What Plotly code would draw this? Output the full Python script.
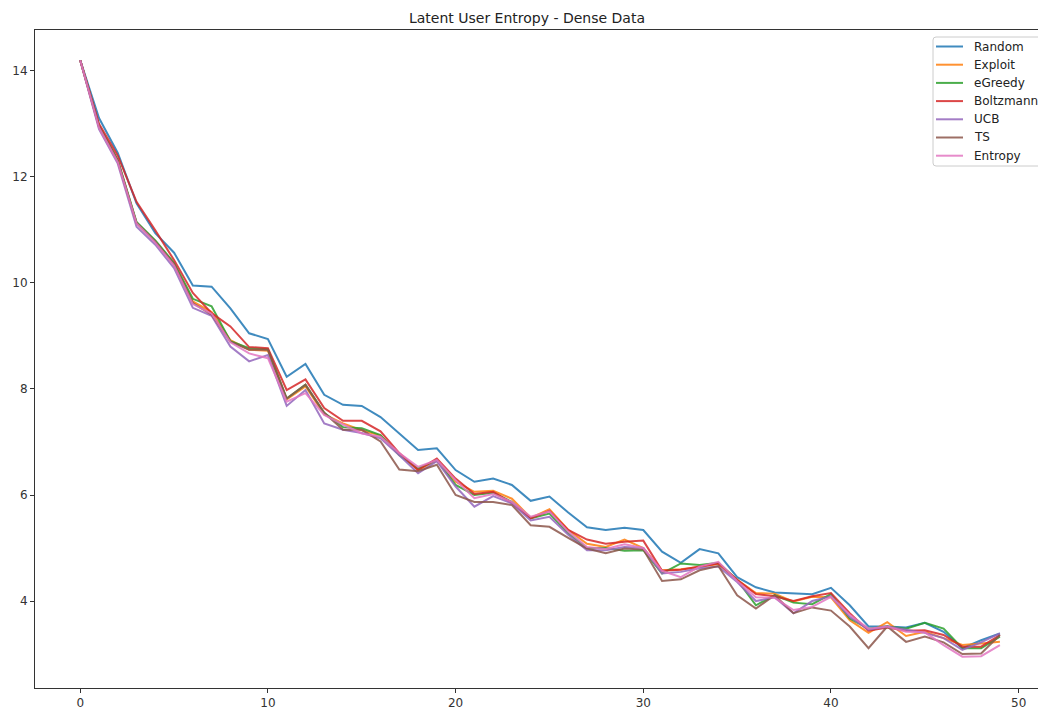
import plotly.graph_objects as go

steps = list(range(50))

random_ = [14.2, 13.11, 12.45, 11.50, 10.94, 10.57, 9.95, 9.93, 9.52, 9.05,
           8.94, 8.23, 8.47, 7.89, 7.70, 7.68, 7.47, 7.16, 6.85, 6.88,
           6.47, 6.25, 6.31, 6.19, 5.89, 5.97, 5.67, 5.39, 5.34, 5.38,
           5.34, 4.93, 4.72, 4.98, 4.90, 4.45, 4.26, 4.16, 4.15, 4.13,
           4.25, 3.92, 3.52, 3.52, 3.50, 3.59, 3.42, 3.11, 3.26, 3.39]
exploit = [14.2, 12.95, 12.30, 11.13, 10.78, 10.35, 9.65, 9.45, 8.92, 8.74,
           8.72, 7.80, 8.05, 7.52, 7.35, 7.22, 7.12, 6.78, 6.47, 6.65,
           6.25, 6.06, 6.08, 5.93, 5.57, 5.73, 5.34, 5.08, 5.02, 5.16,
           5.00, 4.58, 4.60, 4.64, 4.70, 4.40, 4.15, 4.14, 3.99, 4.08,
           4.07, 3.64, 3.40, 3.60, 3.34, 3.42, 3.30, 3.17, 3.20, 3.23]
egreedy = [14.2, 12.97, 12.32, 11.15, 10.80, 10.38, 9.70, 9.56, 8.90, 8.77,
           8.75, 7.82, 8.08, 7.55, 7.28, 7.26, 7.13, 6.75, 6.50, 6.66,
           6.19, 6.00, 6.04, 5.87, 5.56, 5.65, 5.28, 5.00, 5.00, 4.95,
           4.96, 4.52, 4.71, 4.68, 4.72, 4.40, 3.92, 4.11, 3.97, 3.94,
           4.13, 3.67, 3.48, 3.52, 3.48, 3.59, 3.48, 3.11, 3.11, 3.33]
boltzmann = [14.2, 13.00, 12.40, 11.53, 10.99, 10.43, 9.81, 9.43, 9.18, 8.79,
             8.77, 7.98, 8.18, 7.64, 7.40, 7.40, 7.20, 6.79, 6.47, 6.69,
             6.31, 6.02, 6.06, 5.85, 5.56, 5.70, 5.34, 5.16, 5.08, 5.12,
             5.14, 4.57, 4.59, 4.65, 4.71, 4.40, 4.13, 4.09, 4.00, 4.09,
             4.15, 3.77, 3.44, 3.50, 3.44, 3.45, 3.36, 3.14, 3.14, 3.36]
ucb = [14.2, 12.90, 12.25, 11.06, 10.72, 10.28, 9.53, 9.38, 8.80, 8.52,
       8.64, 7.68, 7.98, 7.35, 7.23, 7.17, 7.07, 6.75, 6.41, 6.64,
       6.16, 5.78, 5.98, 5.84, 5.52, 5.59, 5.25, 4.96, 4.96, 5.02,
       5.00, 4.52, 4.55, 4.62, 4.65, 4.36, 4.00, 4.07, 3.77, 4.00,
       4.09, 3.70, 3.46, 3.52, 3.46, 3.40, 3.30, 3.08, 3.22, 3.39]
ts = [14.2, 12.95, 12.30, 11.13, 10.78, 10.35, 9.62, 9.40, 8.89, 8.74,
      8.74, 7.82, 8.08, 7.55, 7.23, 7.23, 7.01, 6.48, 6.45, 6.57,
      6.00, 5.87, 5.87, 5.81, 5.43, 5.40, 5.19, 4.99, 4.90, 4.99,
      4.97, 4.38, 4.41, 4.58, 4.66, 4.11, 3.86, 4.11, 3.77, 3.88,
      3.82, 3.52, 3.11, 3.52, 3.23, 3.33, 3.22, 3.00, 3.01, 3.36]
entropy = [14.2, 12.93, 12.28, 11.12, 10.76, 10.33, 9.60, 9.42, 8.88, 8.67,
           8.58, 7.76, 7.92, 7.51, 7.33, 7.16, 7.10, 6.79, 6.53, 6.66,
           6.28, 5.94, 6.02, 5.87, 5.59, 5.69, 5.31, 5.02, 4.98, 5.07,
           5.00, 4.57, 4.45, 4.65, 4.74, 4.38, 4.07, 4.06, 3.83, 3.89,
           4.08, 3.74, 3.48, 3.52, 3.42, 3.41, 3.17, 2.95, 2.96, 3.17]

names = ["Random", "Exploit", "eGreedy", "Boltzmann", "UCB", "TS", "Entropy"]
series = [random_, exploit, egreedy, boltzmann, ucb, ts, entropy]
colors = ["#1f77b4", "#ff7f0e", "#2ca02c", "#d62728", "#9467bd", "#8c564b", "#e377c2"]

x_ticks = [0, 10, 20, 30, 40, 50]
y_ticks = [4, 6, 8, 10, 12, 14]

W, H = 1038, 712
ML, MR, MT, MB = 35, 0, 30, 24
PW, PH = W - ML - MR, H - MT - MB


def px_x(p):
    return (p - ML) / PW


def px_y(p):
    return (H - MB - p) / PH


fig = go.Figure()
for name, vals, col in zip(names, series, colors):
    fig.add_trace(go.Scatter(x=steps, y=vals, mode="lines", name=name,
                             line=dict(color=col, width=2), opacity=0.85,
                             showlegend=False))

font_family = "DejaVu Sans, sans-serif"

# legend drawn as a box (matplotlib-like, cut at the right edge)
lx0, lx1, ly0, ly1, r = 933, 1050, 37, 166, 3
box = (f"M {px_x(lx0 + r)},{px_y(ly0)} L {px_x(lx1)},{px_y(ly0)} "
       f"L {px_x(lx1)},{px_y(ly1)} L {px_x(lx0 + r)},{px_y(ly1)} "
       f"Q {px_x(lx0)},{px_y(ly1)} {px_x(lx0)},{px_y(ly1 - r)} "
       f"L {px_x(lx0)},{px_y(ly0 + r)} Q {px_x(lx0)},{px_y(ly0)} {px_x(lx0 + r)},{px_y(ly0)} Z")
shapes = [dict(type="path", xref="paper", yref="paper", path=box,
               fillcolor="rgba(255,255,255,0.8)", line=dict(color="#cccccc", width=1))]
annotations = []
row0, row_gap = 46.5, 18.2
for k, (name, col) in enumerate(zip(names, colors)):
    yy = row0 + k * row_gap
    shapes.append(dict(type="line", xref="paper", yref="paper",
                       x0=px_x(936), x1=px_x(963), y0=px_y(yy), y1=px_y(yy),
                       line=dict(color=col, width=2), opacity=0.85))
    annotations.append(dict(text=name, xref="paper", yref="paper", x=px_x(972), y=px_y(yy),
                            xanchor="left", yanchor="middle", showarrow=False,
                            font=dict(family=font_family, size=12, color="#222222")))

fig.update_layout(
    width=W, height=H,
    margin=dict(l=ML, r=MR, t=MT, b=MB),
    paper_bgcolor="white", plot_bgcolor="white",
    font=dict(family=font_family, size=12, color="#333333"),
    title=dict(text="Latent User Entropy - Dense Data", xref="container", yref="container",
               x=527 / W, y=1 - 18 / H, xanchor="center", yanchor="middle",
               font=dict(family=font_family, size=14, color="#222222")),
    showlegend=False,
    shapes=shapes,
    annotations=annotations,
)
fig.update_xaxes(range=[-2.41, 51.03], tickvals=x_ticks, showgrid=False, zeroline=False,
                 showline=True, linecolor="#333333", linewidth=1, mirror=True,
                 ticks="outside", ticklen=4, tickcolor="#333333",
                 tickfont=dict(size=12, color="#333333"))
fig.update_yaxes(range=[2.36, 14.77], tickvals=y_ticks, showgrid=False, zeroline=False,
                 showline=True, linecolor="#333333", linewidth=1,
                 ticks="outside", ticklen=4, tickcolor="#333333",
                 tickfont=dict(size=12, color="#333333"))

fig.write_html("out.html")
